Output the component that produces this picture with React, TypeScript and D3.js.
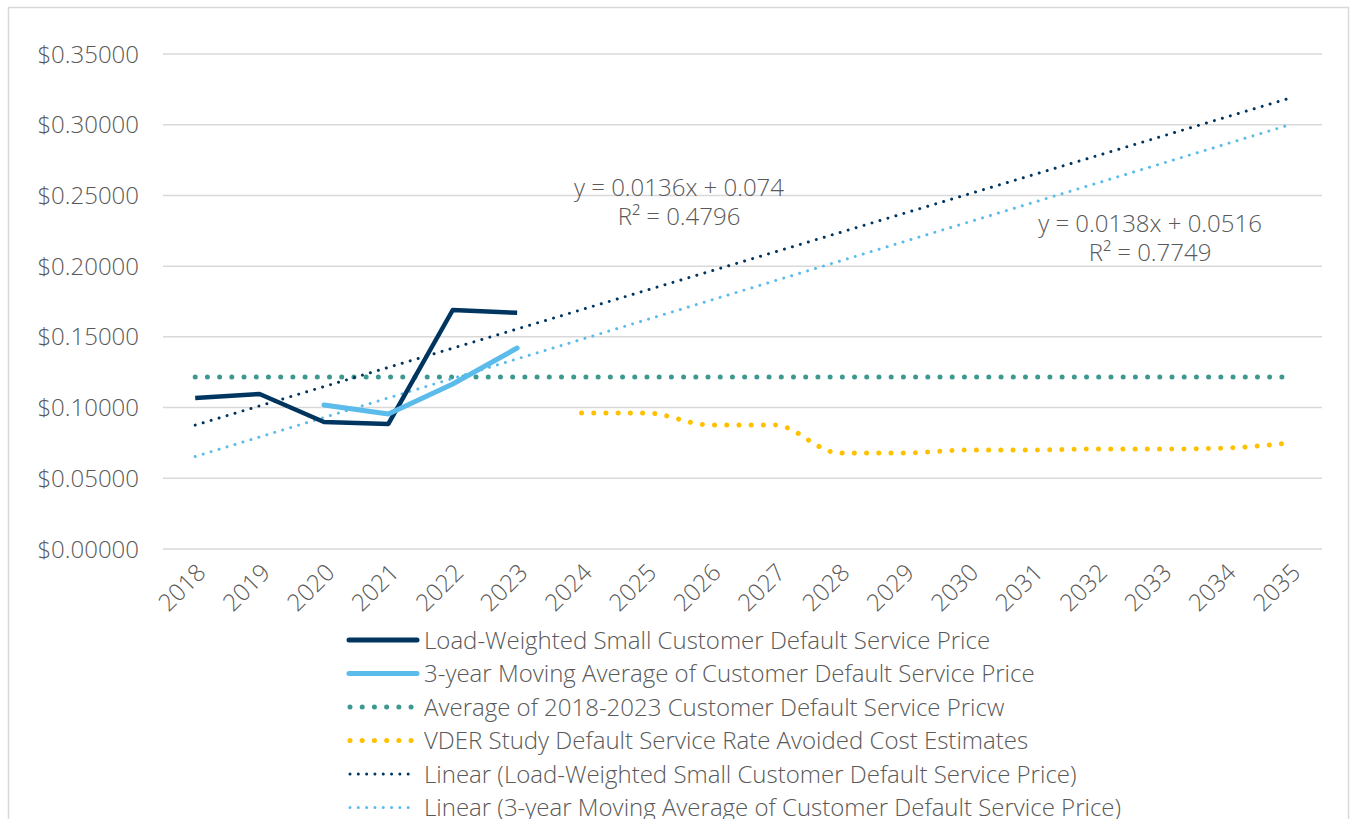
import React from "react";
import * as d3 from "d3";

const years = [
  "2018", "2019", "2020", "2021", "2022", "2023", "2024", "2025", "2026",
  "2027", "2028", "2029", "2030", "2031", "2032", "2033", "2034", "2035",
];
const loadWeighted = [0.1068, 0.1096, 0.0898, 0.0884, 0.169, 0.167];
const movingAvgYears = ["2020", "2021", "2022", "2023"];
const movingAvg = [0.1018, 0.0955, 0.1167, 0.1421];
const averagePrice = 0.1216;
const vderYears = [
  "2024", "2025", "2026", "2027", "2028", "2029", "2030", "2031", "2032",
  "2033", "2034", "2035",
];
const vder = [0.0962, 0.0962, 0.0877, 0.0877, 0.0679, 0.0679, 0.07, 0.07, 0.0707, 0.0707, 0.0714, 0.075];
// trendline coefficients as printed on the chart (x = 1 for 2018)
const trendLoad = { slope: 0.0136, intercept: 0.074, r2: "0.4796" };
const trendAvg = { slope: 0.0138, intercept: 0.0516, r2: "0.7749" };
const yTicks = [0, 0.05, 0.1, 0.15, 0.2, 0.25, 0.3, 0.35];

const legendItems = [
  { label: "Load-Weighted Small Customer Default Service Price", color: "#00355F", w: 5, dash: null },
  { label: "3-year Moving Average of Customer Default Service Price", color: "#5BBBEA", w: 5, dash: null },
  { label: "Average of 2018-2023 Customer Default Service Pricw", color: "#3D9990", w: 5, dash: "0.01 12.2" },
  { label: "VDER Study Default Service Rate Avoided Cost Estimates", color: "#FFC000", w: 5, dash: "0.01 12.2" },
  { label: "Linear (Load-Weighted Small Customer Default Service Price)", color: "#00355F", w: 3, dash: "0.01 8.3" },
  { label: "Linear (3-year Moving Average of Customer Default Service Price)", color: "#5BBBEA", w: 3, dash: "0.01 8.3" },
];

const FONT = "'Open Sans', Lato, sans-serif";
const TXT = "#595959";
const FS = 24;

export default function App() {
  const width = 1351;
  const height = 819;
  const x = d3.scaleBand<string>().domain(years).range([163, 1322]);
  const cx = (yr: string) => (x(yr) as number) + x.bandwidth() / 2;
  const y = d3.scaleLinear().domain([0, 0.35]).range([549, 54]);

  const line = d3.line<[string, number]>().x((d) => cx(d[0])).y((d) => y(d[1]));
  const smooth = d3
    .line<[string, number]>()
    .x((d) => cx(d[0]))
    .y((d) => y(d[1]))
    .curve(d3.curveMonotoneX);

  const loadPts = loadWeighted.map((v, i) => [years[i], v] as [string, number]);
  const avgPts = movingAvg.map((v, i) => [movingAvgYears[i], v] as [string, number]);
  const vderPts = vder.map((v, i) => [vderYears[i], v] as [string, number]);
  const flatPts: [string, number][] = [
    [years[0], averagePrice],
    [years[years.length - 1], averagePrice],
  ];
  const trendPts = (t: { slope: number; intercept: number }): [string, number][] => [
    [years[0], t.intercept + t.slope * 1],
    [years[years.length - 1], t.intercept + t.slope * years.length],
  ];

  return (
    <svg
      width={width}
      height={height}
      style={{ position: "absolute", left: 0, top: 0, background: "#fff" }}
      fontFamily={FONT}
      fontWeight={300}
    >
      <rect x={8.5} y={7.5} width={1340} height={900} fill="#fff" stroke="#D9D9D9" strokeWidth={1.5} />

      {yTicks.map((t) => (
        <g key={t}>
          <line x1={163} x2={1322} y1={y(t)} y2={y(t)} stroke="#D9D9D9" strokeWidth={1.5} />
          <text x={139} y={y(t)} dy="0.36em" textAnchor="end" fontSize={FS} fill={TXT}>
            {d3.format("$.5f")(t)}
          </text>
        </g>
      ))}

      {years.map((yr) => (
        <text
          key={yr}
          transform={`translate(${cx(yr) + 6},${568}) rotate(-45)`}
          textAnchor="end"
          dy="0.36em"
          fontSize={FS}
          fill={TXT}
        >
          {yr}
        </text>
      ))}

      <path d={line(flatPts) || ""} fill="none" stroke="#3D9990" strokeWidth={5} strokeLinecap="round" strokeDasharray="0.01 12.2" />
      <path d={smooth(vderPts) || ""} fill="none" stroke="#FFC000" strokeWidth={5} strokeLinecap="round" strokeDasharray="0.01 12.2" />
      <path d={line(trendPts(trendAvg)) || ""} fill="none" stroke="#5BBBEA" strokeWidth={3} strokeLinecap="round" strokeDasharray="0.01 8.3" />
      <path d={line(trendPts(trendLoad)) || ""} fill="none" stroke="#00355F" strokeWidth={3} strokeLinecap="round" strokeDasharray="0.01 8.3" />
      <path d={line(loadPts) || ""} fill="none" stroke="#00355F" strokeWidth={4.5} strokeLinejoin="round" />
      <path d={line(avgPts) || ""} fill="none" stroke="#5BBBEA" strokeWidth={5} strokeLinejoin="round" strokeLinecap="round" />

      <g fontSize={FS} fill={TXT} textAnchor="middle">
        <text x={679} y={196}>{`y = ${trendLoad.slope}x + ${trendLoad.intercept}`}</text>
        <text x={679} y={225}>{`R² = ${trendLoad.r2}`}</text>
        <text x={1150} y={232}>{`y = ${trendAvg.slope}x + ${trendAvg.intercept}`}</text>
        <text x={1150} y={261}>{`R² = ${trendAvg.r2}`}</text>
      </g>

      {legendItems.map((item, i) => {
        const ly = 640 + i * 33.5;
        return (
          <g key={item.label}>
            <line
              x1={item.dash ? 350 : 349}
              x2={item.dash ? 415 : 417}
              y1={ly}
              y2={ly}
              stroke={item.color}
              strokeWidth={item.w}
              strokeLinecap="round"
              strokeDasharray={item.dash || undefined}
            />
            <text x={424} y={ly} dy="0.36em" fontSize={FS} fill={TXT}>
              {item.label}
            </text>
          </g>
        );
      })}
    </svg>
  );
}
